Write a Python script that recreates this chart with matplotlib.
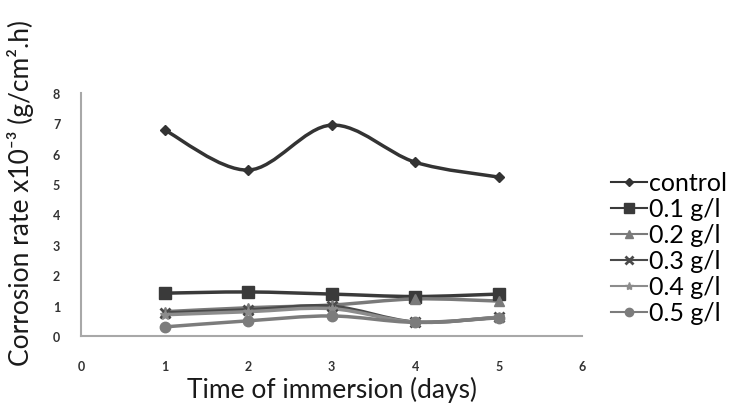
import matplotlib
matplotlib.use("Agg")
import matplotlib.pyplot as plt
import numpy as np
from matplotlib.path import Path
from matplotlib.patches import PathPatch
from matplotlib.lines import Line2D

days = [1, 2, 3, 4, 5]
control = [6.78, 5.46, 6.94, 5.72, 5.23]
c01 = [1.41, 1.45, 1.38, 1.30, 1.38]
c02 = [0.80, 0.93, 1.02, 1.22, 1.15]
c03 = [0.76, 0.86, 0.98, 0.46, 0.62]
c04 = [0.70, 0.80, 0.90, 0.46, 0.62]
c05 = [0.30, 0.50, 0.66, 0.45, 0.60]

labels = ["control", "0.1 g/l", "0.2 g/l", "0.3 g/l", "0.4 g/l", "0.5 g/l"]
series = [control, c01, c02, c03, c04, c05]
colors = ["#333333", "#3a3a3a", "#7a7a7a", "#4a4a4a", "#8c8c8c", "#7c7c7c"]
markers = ["D", "s", "^", "x", "*", "o"]
msizes = [5, 8.5, 6.5, 7, 7.5, 7.5]

plt.rcParams['font.family'] = ['Lato', 'DejaVu Sans']

fig = plt.figure(figsize=(7.38, 4.10), dpi=100)
ax = fig.add_axes([0.1098, 0.178, 0.679, 0.593])


def smooth_path(xs, ys, t=1/6):
    # Catmull-Rom style Bezier through data points (like Excel smoothed lines)
    xs = np.asarray(xs, float)
    ys = np.asarray(ys, float)
    n = len(xs)
    verts = [(xs[0], ys[0])]
    codes = [Path.MOVETO]
    for i in range(n - 1):
        p0 = (xs[i - 1], ys[i - 1]) if i > 0 else (xs[i], ys[i])
        p1 = (xs[i], ys[i])
        p2 = (xs[i + 1], ys[i + 1])
        p3 = (xs[i + 2], ys[i + 2]) if i + 2 < n else p2
        c1 = (p1[0] + (p2[0] - p0[0]) * t, p1[1] + (p2[1] - p0[1]) * t)
        c2 = (p2[0] - (p3[0] - p1[0]) * t, p2[1] - (p3[1] - p1[1]) * t)
        verts += [c1, c2, p2]
        codes += [Path.CURVE4] * 3
    return Path(verts, codes)


handles = []
for ys, lab, col, mk, ms in zip(series, labels, colors, markers, msizes):
    patch = PathPatch(smooth_path(days, ys), facecolor='none', edgecolor=col,
                      lw=2.5, zorder=2)
    ax.add_patch(patch)
    mew = 2 if mk == 'x' else 1
    ax.plot(days, ys, linestyle='none', marker=mk, color=col, markersize=ms,
            markeredgewidth=mew, zorder=3)
    handles.append(Line2D([0], [0], color=col, lw=1.5, marker=mk,
                          markersize=ms * 0.8, markeredgewidth=mew))

ax.set_xlim(0, 6)
ax.set_ylim(0, 8)
ax.set_xticks(range(0, 7))
ax.set_yticks(range(0, 9))
for s in ['top', 'right']:
    ax.spines[s].set_visible(False)
for s in ['left', 'bottom']:
    ax.spines[s].set_color('#a8a8a8')
    ax.spines[s].set_linewidth(1.5)
ax.tick_params(axis='both', length=0, labelsize=9, labelcolor='#333333')
ax.tick_params(axis='y', pad=15)
ax.tick_params(axis='x', pad=17)
for lab in ax.get_xticklabels() + ax.get_yticklabels():
    lab.set_fontweight('bold')

ax.set_xlabel("Time of immersion (days)", fontsize=19, color='#1a1a1a', labelpad=3)
fig.text(0.028, 0.53, "Corrosion rate x10\u207b\u00b3 (g/cm\u00b2.h)", rotation=90,
         fontsize=19, color='#1a1a1a', ha='center', va='center')

leg = fig.legend(handles, labels, loc='center left', bbox_to_anchor=(0.828, 0.393),
                 frameon=False, fontsize=18, handlelength=1.45, handletextpad=0.05,
                 labelspacing=0.12, borderaxespad=0, borderpad=0)

fig.savefig("out.png", dpi=100)
